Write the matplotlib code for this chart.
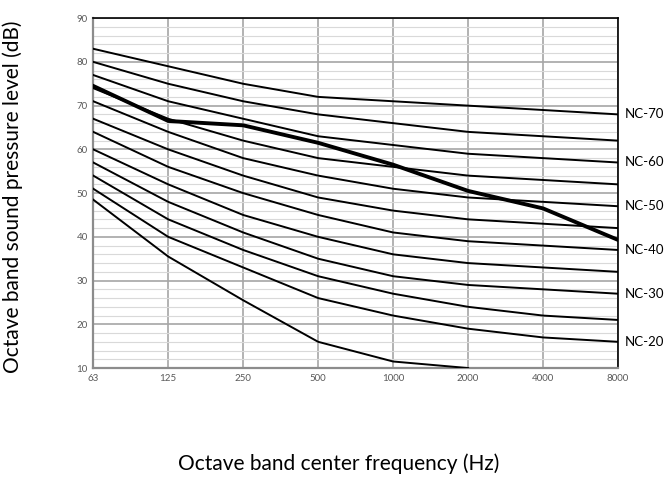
import matplotlib
matplotlib.use("Agg")
import matplotlib.pyplot as plt
import numpy as np

freq_labels = ["63", "125", "250", "500", "1000", "2000", "4000", "8000"]

nc_names = ["NC-70", "NC-65", "NC-60", "NC-55", "NC-50", "NC-45",
            "NC-40", "NC-35", "NC-30", "NC-25", "NC-20", "NC-15"]
nc_levels = [
    [83, 79, 75, 72, 71, 70, 69, 68],
    [80, 75, 71, 68, 66, 64, 63, 62],
    [77, 71, 67, 63, 61, 59, 58, 57],
    [74, 67, 62, 58, 56, 54, 53, 52],
    [71, 64, 58, 54, 51, 49, 48, 47],
    [67, 60, 54, 49, 46, 44, 43, 42],
    [64, 56, 50, 45, 41, 39, 38, 37],
    [60, 52, 45, 40, 36, 34, 33, 32],
    [57, 48, 41, 35, 31, 29, 28, 27],
    [54, 44, 37, 31, 27, 24, 22, 21],
    [51, 40, 33, 26, 22, 19, 17, 16],
    [48.5, 35.5, 25.5, 16, 11.5, 10],
]
labelled = ["NC-70", "NC-60", "NC-50", "NC-40", "NC-30", "NC-20"]

measured = [74.5, 66.5, 65.5, 61.5, 56.5, 50.5, 46.5, 39.3]

plt.rcParams['font.family'] = ['Lato', 'DejaVu Sans']

fig = plt.figure(figsize=(6.66, 4.78), dpi=100)
ax = fig.add_axes([0.14, 0.23, 0.788, 0.732])

ax.set_ylim(10, 90)
ax.set_xlim(0, len(freq_labels) - 1)

ax.set_yticks(np.arange(10, 91, 10))
ax.set_yticks(np.arange(10, 91, 2), minor=True)
ax.set_xticks(range(len(freq_labels)))
ax.set_xticklabels(freq_labels)

ax.grid(axis='y', which='minor', color='#d9d9d9', linewidth=0.8)
ax.grid(axis='y', which='major', color='#a6a6a6', linewidth=1.2)
ax.grid(axis='x', which='major', color='#a6a6a6', linewidth=1.2)
ax.set_axisbelow(True)

for name, vals in zip(nc_names, nc_levels):
    x = np.arange(len(vals))
    ax.plot(x, vals, color='black', linewidth=1.4, zorder=3)
    if name in labelled:
        ax.text(len(vals) - 1 + 0.09, vals[-1], name, fontsize=9.5,
                va='center', ha='left', clip_on=False)

ax.plot(range(len(measured)), measured, color='black', linewidth=2.8, zorder=4)

ax.tick_params(axis='both', which='both', length=0, labelsize=7,
               labelcolor='#595959', pad=4)
for s in ['left', 'bottom']:
    ax.spines[s].set_color('#8c8c8c')
    ax.spines[s].set_linewidth(1.6)
for s in ['top', 'right']:
    ax.spines[s].set_color('black')
    ax.spines[s].set_linewidth(1.2)

fig.text(0.004, 0.588, "Octave band sound pressure level (dB)", rotation=90,
         va='center', ha='left', fontsize=15)
fig.text(0.508, 0.008, "Octave band center frequency (Hz)", ha='center',
         va='bottom', fontsize=15)

fig.savefig("out.png", dpi=100)
